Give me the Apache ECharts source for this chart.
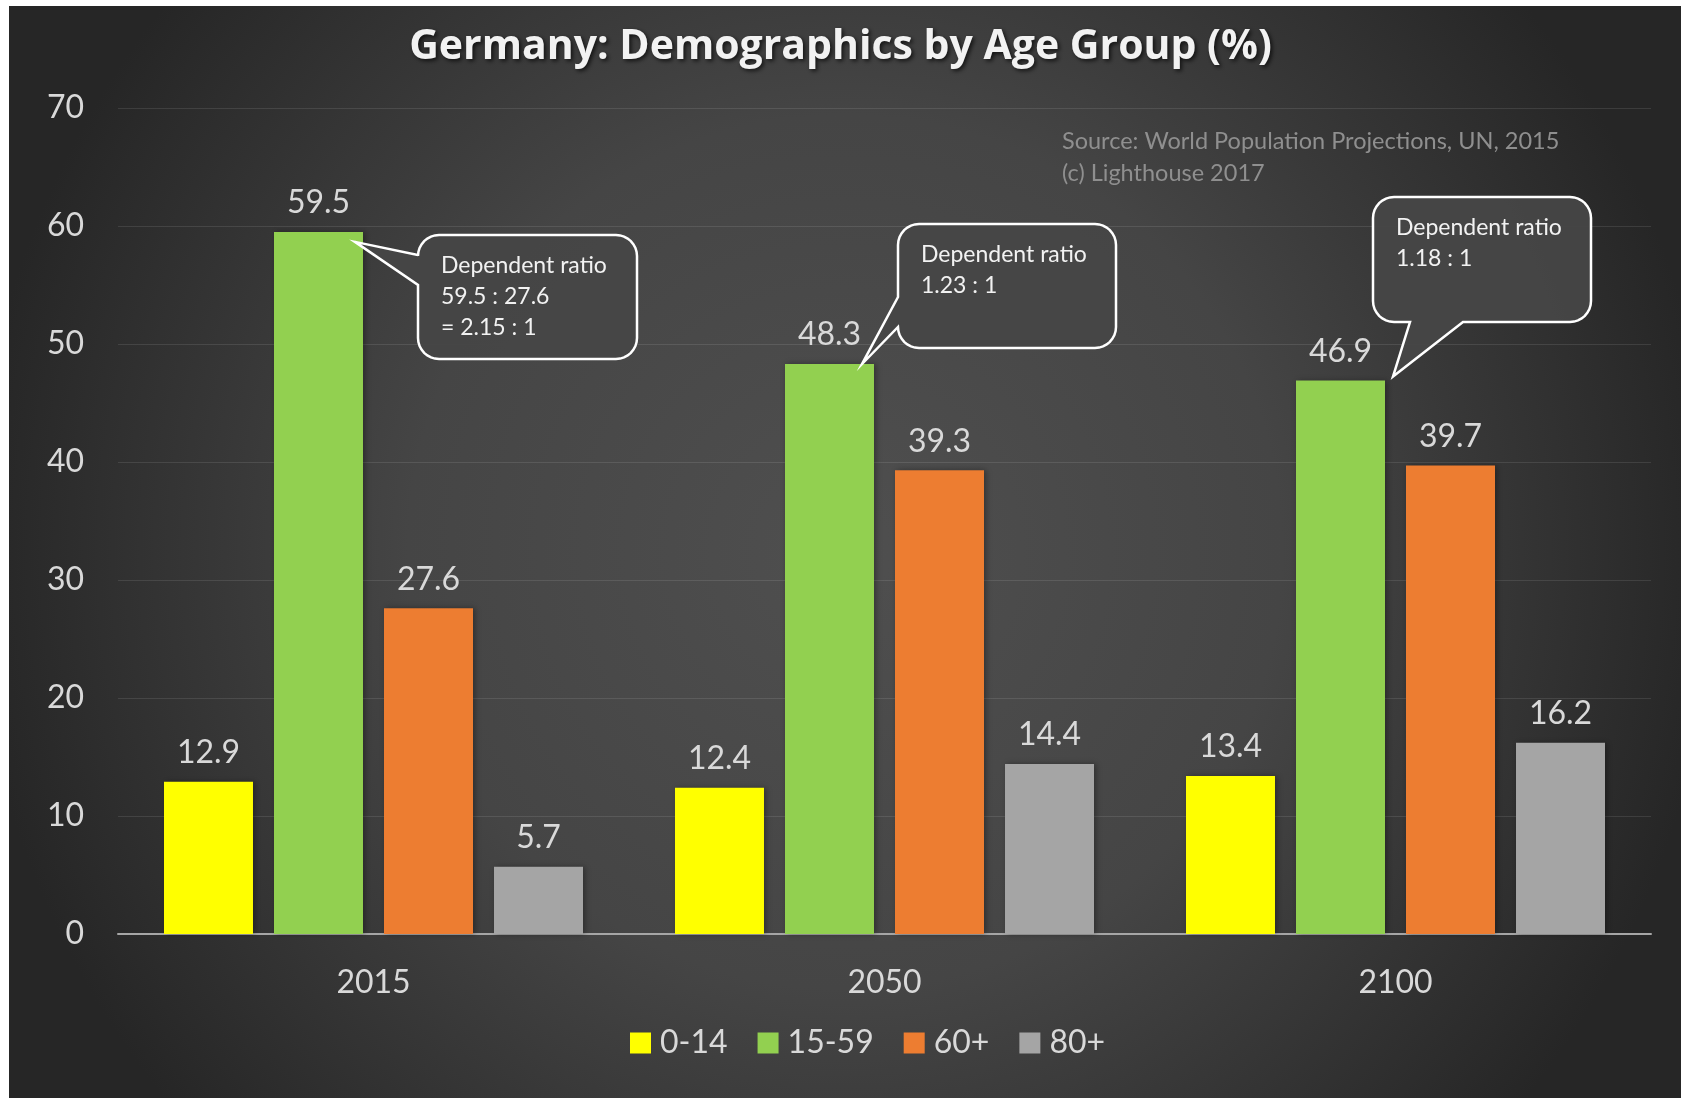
<!DOCTYPE html>
<html>
<head>
<meta charset="utf-8">
<title>Germany: Demographics by Age Group (%)</title>
<script src="https://cdn.jsdelivr.net/npm/echarts@6/dist/echarts.min.js"></script>
<style>
  html, body { margin: 0; padding: 0; background: #ffffff; }
  #chart { width: 1681px; height: 1098px; }
</style>
</head>
<body>
<div id="chart"></div>
<script>
// chart data
const categories = ['2015', '2050', '2100']
const groupNames = ['0-14', '15-59', '60+', '80+']
const age0to14 = [12.9, 12.4, 13.4]
const age15to59 = [59.5, 48.3, 46.9]
const age60plus = [27.6, 39.3, 39.7]
const age80plus = [5.7, 14.4, 16.2]
const yMin = 0
const yMax = 70
const yStep = 10

// annotation texts
const sourceLines = ['Source: World Population Projections, UN, 2015', '(c) Lighthouse 2017']
const ratioNotes = [
  ['Dependent ratio', '59.5 : 27.6', '= 2.15 : 1'],
  ['Dependent ratio', '1.23 : 1'],
  ['Dependent ratio', '1.18 : 1']
]

const barColors = ['#ffff00', '#92d050', '#ed7d31', '#a5a5a5']
const font = 'Lato, "Open Sans", sans-serif'
const textColor = '#d9d9d9'

const chart = echarts.init(document.getElementById('chart'))

const makeSeries = (name, values, color) => ({
  name: name,
  type: 'bar',
  data: values,
  barWidth: 89,
  barGap: '23.6%',
  itemStyle: {
    color: color,
    shadowColor: 'rgba(0,0,0,0.35)',
    shadowBlur: 6,
    shadowOffsetX: 2
  },
  label: {
    show: true,
    position: 'top',
    distance: 13,
    color: textColor,
    fontFamily: font,
    fontSize: 32
  }
})

const option = {
  animation: false,
  backgroundColor: '#ffffff',
  title: {
    text: 'Germany: Demographics by Age Group (%)',
    left: 'center',
    top: 22,
    textStyle: {
      color: '#f2f2f2',
      fontFamily: '"Open Sans", Lato, sans-serif',
      fontWeight: 'bold',
      fontSize: 41,
      textShadowColor: 'rgba(0,0,0,0.7)',
      textShadowBlur: 4,
      textShadowOffsetX: 2,
      textShadowOffsetY: 2
    }
  },
  legend: {
    bottom: 34,
    left: 625,
    itemWidth: 21,
    itemHeight: 21,
    itemGap: 30,
    icon: 'rect',
    textStyle: { color: textColor, fontFamily: font, fontSize: 32, padding: [0, 0, 0, 4] },
    data: groupNames
  },
  grid: {
    left: 118,
    right: 30,
    top: 108,
    bottom: 164,
    containLabel: false
  },
  xAxis: {
    type: 'category',
    data: categories,
    axisLine: { lineStyle: { color: '#a6a6a6', width: 2 } },
    axisTick: { show: false },
    axisLabel: { color: textColor, fontFamily: font, fontSize: 32, margin: 33 }
  },
  yAxis: {
    type: 'value',
    min: yMin,
    max: yMax,
    interval: yStep,
    axisLine: { show: false },
    axisTick: { show: false },
    axisLabel: { color: textColor, fontFamily: font, fontSize: 32, margin: 34 },
    splitLine: { lineStyle: { color: 'rgba(255,255,255,0.1)', width: 1 } }
  },
  series: [
    makeSeries(groupNames[0], age0to14, barColors[0]),
    makeSeries(groupNames[1], age15to59, barColors[1]),
    makeSeries(groupNames[2], age60plus, barColors[2]),
    makeSeries(groupNames[3], age80plus, barColors[3])
  ]
}

chart.setOption(option)

// speech bubble outline as polygon points: rounded box with a tail on the left or bottom edge
const arcPoints = (cx, cy, r, a0, a1) => {
  const pts = []
  const steps = 8
  for (let s = 0; s <= steps; s++) {
    const a = (a0 + (a1 - a0) * s / steps) * Math.PI / 180
    pts.push([cx + r * Math.cos(a), cy + r * Math.sin(a)])
  }
  return pts
}

const calloutPoints = (x, y, w, h, r, side, b1, b2, tip) => {
  let pts = []
  pts = pts.concat(arcPoints(x + w - r, y + r, r, -90, 0))
  pts = pts.concat(arcPoints(x + w - r, y + h - r, r, 0, 90))
  if (side === 'bottom') pts.push([b2, y + h], tip, [b1, y + h])
  pts = pts.concat(arcPoints(x + r, y + h - r, r, 90, 180))
  if (side === 'left') pts.push([x, b2], tip, [x, b1])
  pts = pts.concat(arcPoints(x + r, y + r, r, 180, 270))
  return pts
}

const callouts = [
  { cat: 0, box: [418, 235, 219, 124], side: 'left', base: [255, 285], tipDx: -8, tipDy: 10 },
  { cat: 1, box: [898, 224, 218, 124], side: 'left', base: [297, 327], tipDx: -12, tipDy: 0 },
  { cat: 2, box: [1373, 197, 218, 125], side: 'bottom', base: [1410, 1463], tipDx: 8, tipDy: -4 }
]

const buildGraphics = () => {
  const items = [
    {
      type: 'rect',
      z: -10,
      silent: true,
      shape: { x: 9, y: 6, width: 1672, height: 1092 },
      style: {
        fill: {
          type: 'radial', x: 0.5, y: 0.5, r: 0.8,
          colorStops: [
            { offset: 0, color: '#4f4f4f' },
            { offset: 0.5, color: '#454545' },
            { offset: 1, color: '#262626' }
          ]
        }
      }
    }
  ]

  sourceLines.forEach((line, i) => {
    items.push({
      type: 'text',
      x: 1062,
      y: 141 + i * 32,
      style: { text: line, fill: '#8f8f8f', font: `23.5px ${font}`, verticalAlign: 'middle' }
    })
  })

  // tails point at the top of the 15-59 bars
  const greenData = chart.getModel().getSeriesByIndex(1).getData()
  callouts.forEach((c, i) => {
    const lay = greenData.getItemLayout(c.cat)
    const top = Math.min(lay.y, lay.y + lay.height)
    const right = lay.x + lay.width
    const tip = [right + c.tipDx, top + c.tipDy]
    const [bx, by, bw, bh] = c.box
    items.push({
      type: 'polygon',
      z: 50,
      shape: { points: calloutPoints(bx, by, bw, bh, 21, c.side, c.base[0], c.base[1], tip) },
      style: { fill: 'rgba(70,70,70,0.96)', stroke: '#ffffff', lineWidth: 2.5, lineJoin: 'miter' }
    })
    ratioNotes[i].forEach((line, k) => {
      items.push({
        type: 'text',
        z: 51,
        x: bx + 23,
        y: by + 31 + k * 31,
        style: { text: line, fill: '#f2f2f2', font: `23px ${font}`, verticalAlign: 'middle' }
      })
    })
  })
  return items
}

chart.setOption({ graphic: buildGraphics() })
</script>
</body>
</html>
